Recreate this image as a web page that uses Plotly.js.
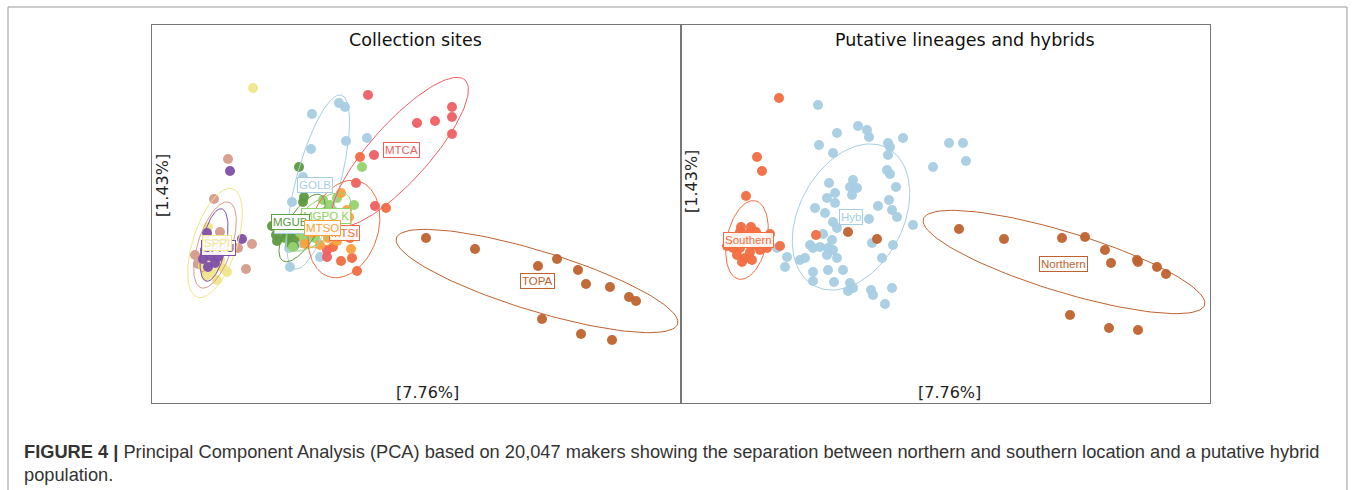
<!DOCTYPE html>
<html>
<head>
<meta charset="utf-8">
<script src="https://cdn.plot.ly/plotly-3.0.1.min.js"></script>
<style>html,body{margin:0;padding:0;background:#fff;}#chart{width:1355px;height:490px;}</style>
</head>
<body>
<div id="chart"></div>
<script>
// ===== DATA (PC scores, arbitrary units x1000) =====
// Left panel: collection sites
const sppiX = [-147,-192,-193,-180,-177,-188,-173,-183,-197,-186,-194,-181];
const sppiY = [142,3,-30,-30,-38,-43,-42,-50,-36,-25,-46,-36];
const purpX = [-170,-193,-158,-195,-190,-197,-185,-192,-188,-182];
const purpY = [59,-3,-9,-20,-26,-29,-33,-37,-17,-27];
const pinkX = [-172,-186,-180,-148,-162,-205,-202,-154,-176,-194];
const pinkY = [71,31,-2,-14,-18,-25,-34,-39,-12,-40];
const golbX = [-61,-55,-88,-33,-54,-89,-97,-108,-110,-80,-104,-99,-111,-90];
const golbY = [127,123,116,92,89,81,53,28,-37,-27,-2,-13,-18,-6];
const mgubX = [-101,-96,-97,-128,-124,-123,-115,-110,-105,-117,-100,-112,-106];
const mgubY = [63,33,28,4,-5,-11,-8,-14,-8,0,3,-5,-16];
const mgpoX = [-38,-46,-77,-70,-63,-75,-67,-107,-95,-85,-100,-89,-80];
const mgpoY = [63,25,30,25,32,18,19,-17,-10,-8,-3,1,8];
const mtsoX = [-59,-53,-51,-95,-80,-49,-72,-63,-87];
const mtsoY = [37,20,13,-14,-15,-19,-8,-11,-3];
const mtsiX = [-40,-14,-59,-48,-43,-50,-67];
const mtsiY = [73,22,-31,-28,-41,-8,-17];
const mtcaX = [-32,17,35,52,52,52,-26,-44,-25,-73,-73];
const mtcaY = [135,107,109,123,113,96,75,47,24,-20,-27];
const topaX = [26,75,138,157,178,186,210,229,236,142,181,212];
const topaY = [-8,-19,-36,-29,-40,-54,-57,-67,-71,-89,-104,-110];

// Right panel: putative lineages and hybrids
const southX = [-151,-173,-168,-184,-179,-189,-150,-160,-163,-114,-200,-195,-190,-185,-180,-175,-170,-193,-185,-178,-188,-170,-197,-182,-174,-165,-190,-203];
const southY = [132,73,59,34,3,3,-16,-4,-18,-5,-13,-8,-18,-10,-22,-15,-10,-25,-28,-30,-32,-20,-18,-4,-2,-13,-2,-16];
const hybX = [-112,-93,-72,-63,-61,-111,-97,-42,-40,-27,-42,3,19,33,36,-43,-40,-101,-77,-80,-73,-78,-95,-34,-103,-95,-41,-52,-115,-105,-38,-33,-61,-17,-97,-93,-107,-98,-120,-117,-110,-102,-97,-58,-37,-153,-143,-145,-130,-125,-103,-93,-48,-117,-102,-87,-117,-96,-80,-77,-82,-59,-57,-38,-45];
const hybY = [125,97,104,100,93,85,77,87,83,92,75,63,87,87,69,60,56,47,50,43,42,35,37,43,32,27,30,24,22,17,20,13,11,5,8,2,-4,-10,-15,-18,-17,-18,-20,-13,-15,-18,-27,-37,-30,-28,-25,-28,-28,-42,-40,-40,-51,-52,-53,-58,-61,-60,-65,-58,-74];
const hybNorthX = [-82,-53];
const hybNorthY = [-2,-9];
const northX = [29,74,132,155,175,181,207,208,227,236,140,179,208];
const northY = [1,-9,-8,-7,-20,-33,-30,-32,-37,-44,-85,-98,-100];

// Ellipse parameters: [centerX, centerY, semiMajor, semiMinor, angleDeg]
const leftEllipses = {
  SPPI:[-185,-13,57,22,72], PINK:[-185,-15,45,17,72], SPPU:[-186,-15,37,12,78],
  GOLB:[-82,48,90,22,75], MGUB:[-98,2,38,15,60], MGPO:[-82,8,40,18,40],
  MTSO:[-75,2,28,17,25], MTSI:[-56,1,50,34,72], MTCA:[0,78,97,29,48], TOPA:[137,-51,147,30,-17]
};
const rightEllipses = { Southern:[-183,-10,40,20,78], Hyb:[-79,13,78,52,62], Northern:[134,-32,147,30,-17] };

const C = {
  yellow:'#f0e68a', purple:'#7e4fa8', pink:'#d69b8b', lblue:'#a6cee3', dgreen:'#5e9a40',
  lgreen:'#93d36e', orange:'#fba23c', redor:'#f26d40', red:'#ee5f62', brown:'#c0622e'
};

// ===== BUILD =====
function ellipse(p){
  const [cx,cy,a,b,ang] = p; const t = ang*Math.PI/180; const xs=[], ys=[];
  for(let i=0;i<=120;i++){ const u = 2*Math.PI*i/120;
    xs.push(cx + a*Math.cos(u)*Math.cos(t) - b*Math.sin(u)*Math.sin(t));
    ys.push(cy + a*Math.cos(u)*Math.sin(t) + b*Math.sin(u)*Math.cos(t)); }
  return {xs, ys};
}
function pts(x,y,color,xa,ya){
  return {type:'scatter',mode:'markers',x:x,y:y,xaxis:xa,yaxis:ya,hoverinfo:'skip',
    marker:{size:10,color:color,opacity:0.95,line:{width:0}}};
}
function ell(p,color,xa,ya){
  const e = ellipse(p);
  return {type:'scatter',mode:'lines',x:e.xs,y:e.ys,xaxis:xa,yaxis:ya,hoverinfo:'skip',
    line:{color:color,width:1}};
}
const traces = [
  pts(topaX,topaY,C.brown,'x','y'),
  pts(golbX,golbY,C.lblue,'x','y'),
  pts(mtcaX,mtcaY,C.red,'x','y'),
  pts(mtsiX,mtsiY,C.redor,'x','y'),
  pts(mgubX,mgubY,C.dgreen,'x','y'),
  pts(mgpoX,mgpoY,C.lgreen,'x','y'),
  pts(mtsoX,mtsoY,C.orange,'x','y'),
  pts(pinkX,pinkY,C.pink,'x','y'),
  pts(sppiX,sppiY,C.yellow,'x','y'),
  pts(purpX,purpY,C.purple,'x','y'),
  ell(leftEllipses.SPPI,C.yellow,'x','y'),
  ell(leftEllipses.PINK,C.pink,'x','y'),
  ell(leftEllipses.SPPU,C.purple,'x','y'),
  ell(leftEllipses.GOLB,C.lblue,'x','y'),
  ell(leftEllipses.MGUB,C.dgreen,'x','y'),
  ell(leftEllipses.MGPO,C.lgreen,'x','y'),
  ell(leftEllipses.MTSO,C.orange,'x','y'),
  ell(leftEllipses.MTSI,C.redor,'x','y'),
  ell(leftEllipses.MTCA,C.red,'x','y'),
  ell(leftEllipses.TOPA,C.brown,'x','y'),
  pts(hybX,hybY,C.lblue,'x2','y2'),
  pts(southX,southY,C.redor,'x2','y2'),
  pts(northX,northY,C.brown,'x2','y2'),
  pts(hybNorthX,hybNorthY,C.brown,'x2','y2'),
  ell(rightEllipses.Southern,C.redor,'x2','y2'),
  ell(rightEllipses.Hyb,C.lblue,'x2','y2'),
  ell(rightEllipses.Northern,C.brown,'x2','y2')
];

function lab(text,x,y,color,xa,ya){
  return {text:text,x:x,y:y,xref:xa,yref:ya,showarrow:false,
    font:{family:'Liberation Sans, Arial, sans-serif',size:11.5,color:color},
    bgcolor:'rgba(255,255,255,0.9)',bordercolor:color,borderwidth:1,borderpad:1};
}
const axisFont = {family:'DejaVu Sans, sans-serif',size:16,color:'#222'};
const titleFont = {family:'DejaVu Sans, sans-serif',size:17.5,color:'#111'};
const capFont = {family:'Liberation Sans, Arial, sans-serif',size:18.25,color:'#333'};
function txt(text,xr,yr,x,y,font,extra){
  return Object.assign({text:text,xref:xr,yref:yr,x:x,y:y,xanchor:'center',yanchor:'middle',showarrow:false,font:font},extra||{});
}
const annotations = [
  lab('MTSI',-56,-3,C.redor,'x','y'),
  lab('MGPO K',-74,14,C.lgreen,'x','y'),
  lab('GOLB',-108,4,C.lblue,'x','y'),
  lab('MGUB',-110,8,C.dgreen,'x','y'),
  lab('MTSO',-78,2,C.orange,'x','y'),
  lab('GOLB',-85,45,C.lblue,'x','y'),
  lab('MTCA',1,80,C.red,'x','y'),
  lab('TOPA',137,-51,C.brown,'x','y'),
  lab('SPPU',-182,-18,C.purple,'x','y'),
  lab('SPPI',-183,-13,C.yellow,'x','y'),
  lab('Southern',-182,-10,C.redor,'x2','y2'),
  lab('Hyb',-79,13,C.lblue,'x2','y2'),
  lab('Northern',133,-34,C.brown,'x2','y2'),
  txt('Collection sites','x domain','y domain',0.499,0.960,titleFont),
  txt('Putative lineages and hybrids','x2 domain','y2 domain',0.537,0.960,titleFont),
  txt('[7.76%]','x domain','y domain',0.52,0.029,axisFont),
  txt('[7.76%]','x2 domain','y2 domain',0.508,0.029,axisFont),
  txt('[1.43%]','x domain','y domain',0.019,0.574,axisFont,{textangle:-90}),
  txt('[1.43%]','x2 domain','y2 domain',0.021,0.585,axisFont,{textangle:-90}),
  txt('<b>FIGURE 4 |</b> Principal Component Analysis (PCA) based on 20,047 makers showing the separation between northern and southern location and a putative hybrid',
   'paper','paper',-0.1229,-0.127,capFont,{xanchor:'left'}),
  txt('population.','paper','paper',-0.1229,-0.188,capFont,{xanchor:'left'})
];

const ax = {showgrid:false,zeroline:false,showticklabels:false,ticks:'',showline:true,mirror:true,linecolor:'#777',linewidth:1};
const layout = {
  width:1355,height:490,margin:{l:152,r:145,t:25,b:87},
  paper_bgcolor:'#fff',plot_bgcolor:'#fff',showlegend:false,
  xaxis:Object.assign({},ax,{domain:[0,0.5],range:[-248,281]}),
  yaxis:Object.assign({},ax,{domain:[0,1],range:[-173,205]}),
  xaxis2:Object.assign({},ax,{domain:[0.5,1],range:[-249,280],anchor:'y2'}),
  yaxis2:Object.assign({},ax,{domain:[0,1],range:[-173,205],anchor:'x2'}),
  annotations:annotations,
  shapes:[{type:'rect',xref:'paper',yref:'paper',x0:-0.1361,x1:1.1295,y0:-0.25,y1:1.0476,
    line:{color:'#999',width:1},fillcolor:'rgba(0,0,0,0)',layer:'below'}]
};
Plotly.newPlot('chart',traces,layout,{staticPlot:true,displayModeBar:false});
</script>
</body>
</html>
